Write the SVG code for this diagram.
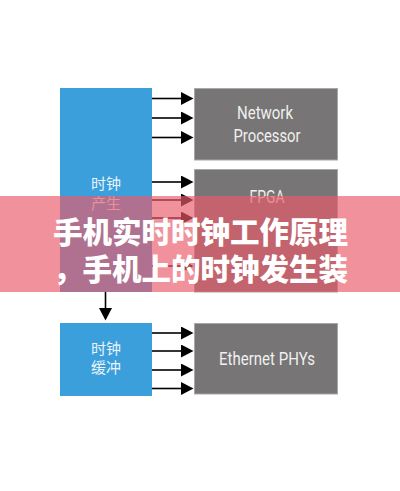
<svg xmlns="http://www.w3.org/2000/svg" width="400" height="491" viewBox="0 0 400 491">
<defs>
<marker id="ah" markerUnits="userSpaceOnUse" markerWidth="13" markerHeight="13" refX="0" refY="6.5" orient="auto">
<path d="M0,0 L12.5,6.5 L0,13 z" fill="#000"/>
</marker>
<style>
.blue{fill:#3a9fdb;}
.gray{fill:#777575;stroke:#a8a8a8;stroke-width:1;}
.cn{font-family:"Noto Sans CJK SC",sans-serif;font-size:15px;fill:#eaf4fb;text-anchor:middle;}
.en{font-family:"Roboto","Liberation Sans",sans-serif;font-size:18.5px;fill:#f0f0f0;text-anchor:middle;}
.con line{stroke:#000;stroke-width:1.6;marker-end:url(#ah);}
.ban{font-family:"Noto Sans CJK SC",sans-serif;font-weight:900;font-size:29.5px;fill:#fff;}
</style>
</defs>
<rect width="400" height="491" fill="#fff"/>
<g id="gen"><rect class="blue" x="60" y="88" width="92" height="204"/><text class="cn" x="106" y="189">时钟</text><text class="cn" x="106" y="209">产生</text></g>
<g id="np"><rect class="gray" x="194.5" y="88.5" width="143" height="71.5"/><text class="en" x="265" y="119" textLength="56" lengthAdjust="spacingAndGlyphs">Network</text><text class="en" x="267" y="142" textLength="67" lengthAdjust="spacingAndGlyphs">Processor</text></g>
<g id="fpga"><rect class="gray" x="194.5" y="169.5" width="143" height="122.5"/><text class="en" x="267" y="203" textLength="35" lengthAdjust="spacingAndGlyphs">FPGA</text></g>
<g id="buf"><rect class="blue" x="60" y="323" width="92" height="73"/><text class="cn" x="106" y="354">时钟</text><text class="cn" x="106" y="373">缓冲</text></g>
<g id="phy"><rect class="gray" x="194.5" y="323.5" width="143" height="70.5"/><text class="en" x="267" y="365" textLength="96" lengthAdjust="spacingAndGlyphs">Ethernet PHYs</text></g>
<g class="con" id="connectors">
<line x1="152" y1="98.5" x2="181" y2="98.5"/>
<line x1="152" y1="118" x2="181" y2="118"/>
<line x1="152" y1="137.5" x2="181" y2="137.5"/>
<line x1="152" y1="182" x2="181" y2="182"/>
<line x1="152" y1="200" x2="181" y2="200"/>
<line x1="152" y1="218" x2="181" y2="218"/>
<line x1="152" y1="266" x2="181" y2="266"/>
<line x1="105.5" y1="292" x2="105.5" y2="308"/>
<line x1="152" y1="333" x2="181" y2="333"/>
<line x1="152" y1="351" x2="181" y2="351"/>
<line x1="152" y1="370" x2="181" y2="370"/>
<line x1="152" y1="388.5" x2="181" y2="388.5"/>
</g>
<rect x="0" y="196" width="400" height="96" fill="rgb(233,91,106)" fill-opacity="0.67"/>
<text class="ban" x="53" y="243">手机实时时钟工作原理</text>
<text class="ban" x="53" y="280">，手机上的时钟发生装</text>
</svg>
